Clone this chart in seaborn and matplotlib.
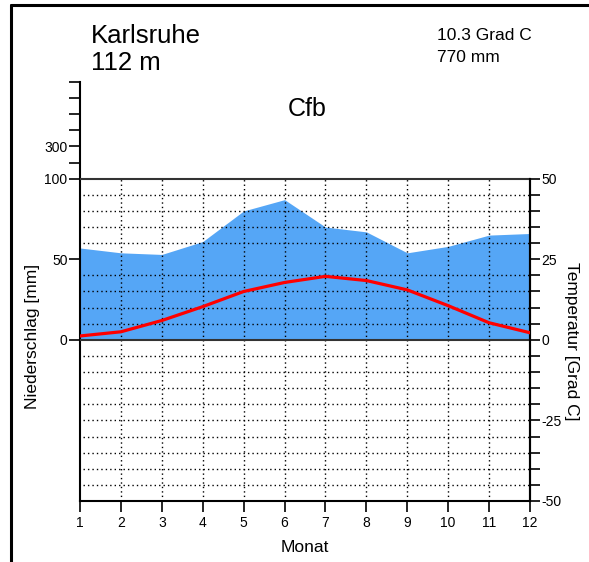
import numpy as np
import pandas as pd
import matplotlib
matplotlib.use("Agg")
import matplotlib.pyplot as plt
import seaborn as sns
from matplotlib.lines import Line2D

# Klimadaten Karlsruhe
months = [1, 2, 3, 4, 5, 6, 7, 8, 9, 10, 11, 12]
precip = [57, 54, 53, 61, 80, 87, 70, 67, 54, 58, 65, 66]          # mm
temp = [1.2, 2.5, 6.0, 10.3, 15.0, 17.8, 19.7, 18.4, 15.5, 10.6, 5.3, 2.2]  # Grad C
station = "Karlsruhe"
height = "112 m"
climate = "Cfb"
mean_temp = "10.3 Grad C"
annual_precip = "770 mm"


def scale_p(p):
    # above 100 mm the scale is compressed 1:10
    p = np.asarray(p, dtype=float)
    return np.where(p > 100, 100 + (p - 100) / 10, p)


df = pd.DataFrame({"Monat": months, "N": scale_p(precip), "T": temp})

sns.set_style("white")
plt.rcParams["font.family"] = ["Liberation Sans", "DejaVu Sans"]
plt.rcParams["text.color"] = "black"
plt.rcParams["xtick.color"] = "black"
plt.rcParams["ytick.color"] = "black"

W, H = 589, 562
fig = plt.figure(figsize=(W / 100, H / 100), dpi=100)
x0, x1 = 80, 530
y_top, y_bot = 82, 501
ax = fig.add_axes([x0 / W, 1 - y_bot / H, (x1 - x0) / W, (y_bot - y_top) / H])
ax.set_xlim(1, 12)
ax.set_ylim(-100, 160)

# precipitation fill
ax.fill_between(df["Monat"], 0, df["N"], color="#55a6f6", lw=0, zorder=1)

# grid
grid_y = [v for v in range(-90, 100, 10) if v not in (0, 50)]
ax.hlines(grid_y, 1.08, 12, colors="black", linestyles=(0, (1, 2.2)), lw=1, zorder=2)
ax.vlines(months[1:-1], -100, 100, colors="black", linestyles=(0, (1, 2.2)), lw=1, zorder=2)
ax.hlines([0, 100], 1, 12, colors="#333333", lw=1.5, zorder=3)

# spines
ax.spines["top"].set_visible(False)
ax.spines["left"].set_bounds(-100, 160)
ax.spines["right"].set_bounds(-100, 100)
for s in ["left", "right", "bottom"]:
    ax.spines[s].set_color("black")
    ax.spines[s].set_linewidth(1.5)

left_ticks = [0, 50, 100, 110, 120, 130, 140, 150, 160]
left_labels = ["0", "50", "100", "", "300", "", "", "", ""]
ax.set_yticks(left_ticks)
ax.set_yticklabels(left_labels)
ax.set_xticks(months)
ax.set_xticklabels([str(m) for m in months])
ax.tick_params(axis="y", left=True, direction="out", length=8, width=1.2, labelsize=10, pad=1)
ax.tick_params(axis="x", bottom=True, direction="out", length=8, width=1.2, labelsize=10, pad=3)
ax.set_xlabel("")
ax.set_ylabel("")

# temperature axis
ax2 = ax.twinx()
ax2.set_ylim(-50, 80)
sns.lineplot(data=df, x="Monat", y="T", ax=ax2, color="#ff0000", lw=2.3, zorder=5)
ax2.set_xlim(1, 12)
ax2.set_yticks(np.arange(-50, 55, 5))
ax2.set_yticklabels([str(v) if v % 25 == 0 else "" for v in range(-50, 55, 5)])
ax2.tick_params(axis="y", right=True, direction="out", length=7, width=1.2, labelsize=10, pad=1)
for s in ["top", "left", "bottom"]:
    ax2.spines[s].set_visible(False)
ax2.spines["right"].set_bounds(-50, 50)
ax2.spines["right"].set_linewidth(1.5)
ax2.spines["right"].set_color("black")
ax2.set_ylabel("")
ax2.set_xlabel("")

# texts
fig.text(91 / W, 1 - 36 / H, station, fontsize=18.5, va="center", ha="left")
fig.text(91 / W, 1 - 63 / H, height, fontsize=18.5, va="center", ha="left")
fig.text(437 / W, 1 - 36 / H, mean_temp, fontsize=12.5, va="center", ha="left")
fig.text(437 / W, 1 - 57 / H, annual_precip, fontsize=12.5, va="center", ha="left")
fig.text(307 / W, 1 - 109 / H, climate, fontsize=18, va="center", ha="center")
fig.text(33 / W, 1 - 336 / H, "Niederschlag [mm]", fontsize=12.5, rotation=90, va="center", ha="center")
fig.text(572 / W, 1 - 341 / H, "Temperatur [Grad C]", fontsize=12.5, rotation=-90, va="center", ha="center")
fig.text(305 / W, 1 - 547 / H, "Monat", fontsize=12.5, va="center", ha="center")

# frame
fig.add_artist(Line2D([11 / W, 11 / W], [0, 1 - 5 / H], color="black", lw=2.2, transform=fig.transFigure))
fig.add_artist(Line2D([11 / W, 1], [1 - 5 / H, 1 - 5 / H], color="black", lw=2.2, transform=fig.transFigure))

fig.savefig("out.png", dpi=100)
